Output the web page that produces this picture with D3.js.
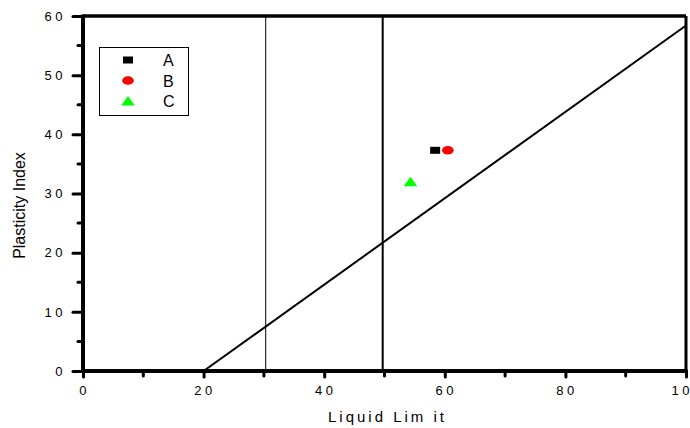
<html>
<head>
<meta charset="utf-8">
<title>Plasticity chart</title>
<script src="https://cdn.jsdelivr.net/npm/d3@7"></script>
<style>
  body { margin: 0; background: #fff; }
  text { font-family: "Liberation Sans", Arial, sans-serif; fill: #000; }
</style>
</head>
<body>
<script>
    var w = 690, h = 428;
    var margin = {top: 16, right: 3, bottom: 57, left: 83};

    // samples
    var names = ['A', 'B', 'C'];
    var liquidLimit = [58.4, 60.5, 54.3];
    var plasticityIndex = [37.3, 37.3, 32.0];
    var colors = ['#000000', '#ff0000', '#00ff00'];

    // reference lines
    var aLine = [[20, 0], [100, 58.4]];
    var thinLineX = 30.3;
    var thickLineX = 49.7;

    var xTicks = [0, 20, 40, 60, 80, 100];
    var yTicks = [0, 10, 20, 30, 40, 50, 60];

    var x = d3.scaleLinear().domain([0, 100]).range([margin.left, w - margin.right - 1]);
    var y = d3.scaleLinear().domain([0, 60]).range([h - margin.bottom, margin.top]);

    var svg = d3.select('body').append('svg').attr('width', w).attr('height', h);

    // minor ticks
    var xMinor = d3.range(10, 100, 20), yMinor = d3.range(5, 60, 10);
    svg.selectAll('.xminor').data(xMinor).enter().append('line')
        .attr('x1', function(d){ return x(d); }).attr('x2', function(d){ return x(d); })
        .attr('y1', y(0)).attr('y2', y(0) + 5)
        .attr('stroke', '#000').attr('stroke-width', 3).attr('stroke-linecap', 'round');
    svg.selectAll('.yminor').data(yMinor).enter().append('line')
        .attr('y1', function(d){ return y(d); }).attr('y2', function(d){ return y(d); })
        .attr('x1', x(0)).attr('x2', x(0) - 5)
        .attr('stroke', '#000').attr('stroke-width', 3).attr('stroke-linecap', 'round');

    // axes
    var xAxis = svg.append('g').attr('transform', 'translate(0,' + y(0) + ')')
        .call(d3.axisBottom(x).tickValues(xTicks).tickSize(6).tickPadding(9));
    var yAxis = svg.append('g').attr('transform', 'translate(' + x(0) + ',0)')
        .call(d3.axisLeft(y).tickValues(yTicks).tickSize(10).tickPadding(10));
    [xAxis, yAxis].forEach(function(g){
        g.select('.domain').remove();
        g.selectAll('.tick line').attr('stroke-width', 3).attr('stroke-linecap', 'round');
        g.selectAll('.tick text').attr('font-size', 13).attr('letter-spacing', '3.5px')
            .attr('font-family', '"Liberation Sans", Arial, sans-serif');
    });
    // letter-spacing also pads after the last digit, shift back for that
    xAxis.selectAll('.tick text').attr('dx', '1px');
    yAxis.selectAll('.tick text').attr('dx', '3px');

    // frame
    svg.append('line').attr('x1', x(0)).attr('x2', x(100)).attr('y1', y(60)).attr('y2', y(60))
        .attr('stroke', '#000').attr('stroke-width', 3.5);
    svg.append('line').attr('x1', x(100)).attr('x2', x(100)).attr('y1', y(60)).attr('y2', y(0))
        .attr('stroke', '#000').attr('stroke-width', 3);
    svg.append('line').attr('x1', x(0)).attr('x2', x(0)).attr('y1', y(60) - 1.5).attr('y2', y(0) + 2)
        .attr('stroke', '#000').attr('stroke-width', 4);
    svg.append('line').attr('x1', x(0)).attr('x2', x(100) + 1.5).attr('y1', y(0)).attr('y2', y(0))
        .attr('stroke', '#000').attr('stroke-width', 4);

    // vertical lines
    svg.append('line').attr('x1', x(thinLineX)).attr('x2', x(thinLineX)).attr('y1', y(60)).attr('y2', y(0))
        .attr('stroke', '#000').attr('stroke-width', 1);
    svg.append('line').attr('x1', x(thickLineX)).attr('x2', x(thickLineX)).attr('y1', y(60)).attr('y2', y(0))
        .attr('stroke', '#000').attr('stroke-width', 2);

    // A-line
    svg.append('path').datum(aLine)
        .attr('d', d3.line().x(function(d){ return x(d[0]); }).y(function(d){ return y(d[1]); }))
        .attr('fill', 'none').attr('stroke', '#000').attr('stroke-width', 2);

    // markers are a little wider than tall in the original
    function drawSymbol(sel, i) {
        if (i === 0) {
            sel.append('rect').attr('x', -5).attr('y', -3.5).attr('width', 10).attr('height', 7).attr('fill', colors[i]);
        } else if (i === 1) {
            sel.append('ellipse').attr('rx', 5.8).attr('ry', 4.3).attr('fill', colors[i]);
        } else {
            sel.append('path').attr('d', 'M0,-5L6.8,4.5L-6.8,4.5Z').attr('fill', colors[i]);
        }
    }
    names.forEach(function(n, i){
        var g = svg.append('g')
            .attr('transform', 'translate(' + x(liquidLimit[i]) + ',' + y(plasticityIndex[i]) + ')');
        drawSymbol(g, i);
    });

    // legend
    var legend = svg.append('g');
    legend.append('rect').attr('x', 99.5).attr('y', 47.5).attr('width', 89).attr('height', 68)
        .attr('fill', '#fff').attr('stroke', '#000').attr('stroke-width', 1);
    names.forEach(function(n, i){
        var yy = 60 + i * 20.5;
        var g = legend.append('g').attr('transform', 'translate(128,' + yy + ')');
        drawSymbol(g, i);
        legend.append('text').attr('x', 163).attr('y', yy + 6).attr('font-size', 16).text(n);
    });

    // axis titles
    svg.append('text').attr('x', (x(0) + x(100)) / 2 + 3).attr('y', 422)
        .attr('text-anchor', 'middle').attr('font-size', 15).attr('letter-spacing', '3px')
        .text('Liquid Lim it');
    svg.append('text').attr('transform', 'translate(25,' + ((y(0) + y(60)) / 2 + 12) + ') rotate(-90)')
        .attr('text-anchor', 'middle').attr('font-size', 16)
        .text('Plasticity Index');
</script>
</body>
</html>
